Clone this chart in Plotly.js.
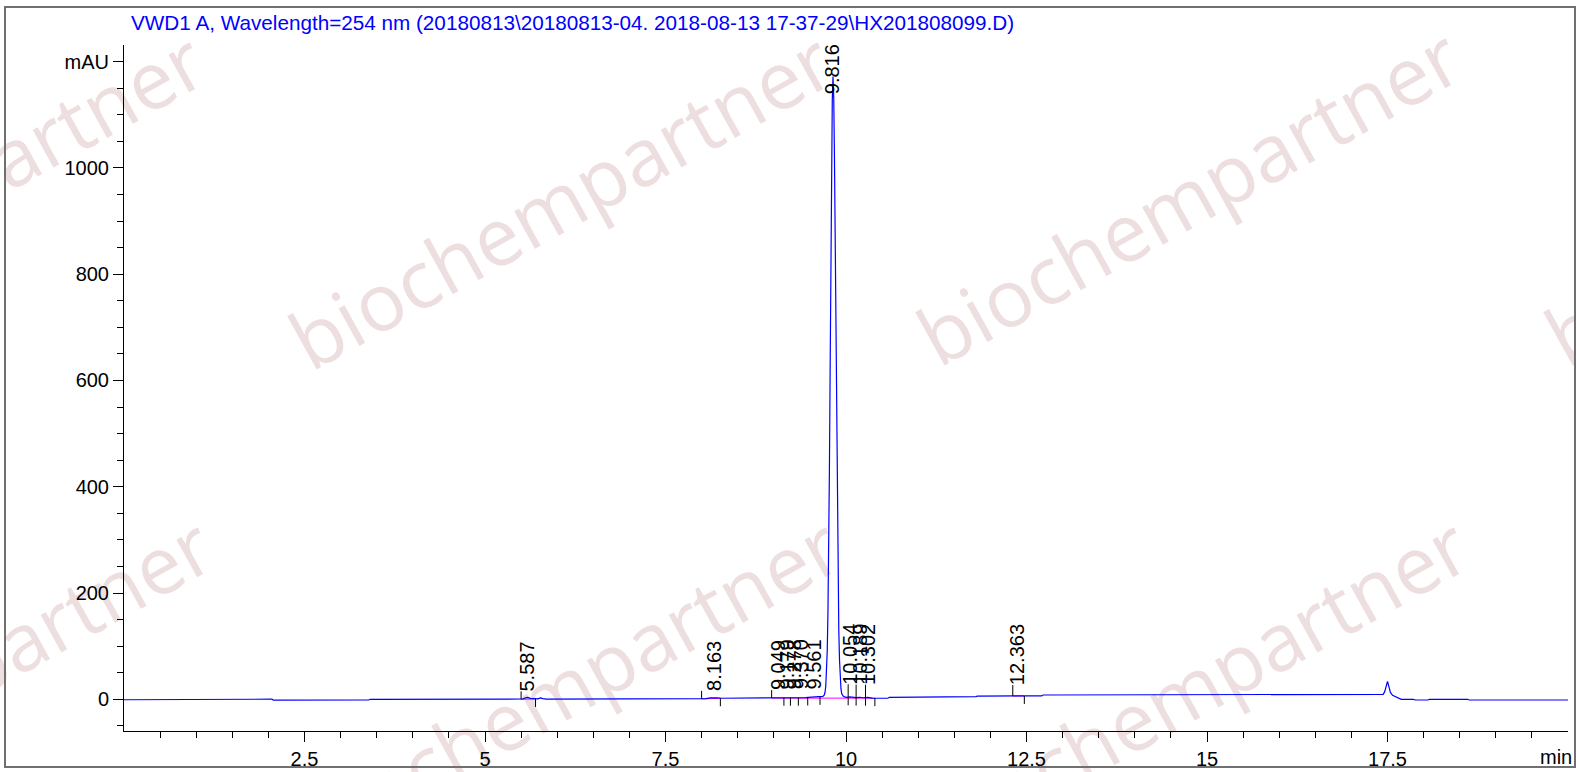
<!DOCTYPE html>
<html>
<head>
<meta charset="utf-8">
<script src="https://cdn.plot.ly/plotly-3.0.1.min.js"></script>
<style>html,body{margin:0;padding:0;background:#fff;}#chart{width:1576px;height:772px;}</style>
</head>
<body>
<div id="chart"></div>
<script>
// ---- data ----
const titleText = 'VWD1 A, Wavelength=254 nm (20180813\\20180813-04. 2018-08-13 17-37-29\\HX201808099.D)';

const time = [0, 1.93, 1.95, 2.05, 2.07, 2.27, 2.29, 2.34, 2.36, 3.39, 3.41, 5.45,
  5.52, 5.56, 5.59, 5.63, 5.68, 5.73, 5.77, 5.80, 5.85, 6.5, 7.5, 7.98, 8.06, 8.12, 8.163, 8.21, 8.28, 8.6,
  8.95, 9.01, 9.049, 9.10, 9.179, 9.23, 9.278, 9.33, 9.370, 9.44, 9.52, 9.561, 9.61, 9.66,
  9.68, 9.70, 9.71, 9.72, 9.73, 9.74, 9.75, 9.76, 9.77, 9.78, 9.79, 9.80, 9.81, 9.82,
  9.83, 9.84, 9.85, 9.86, 9.87, 9.88, 9.89, 9.90, 9.91, 9.92, 9.93, 9.94, 9.96, 9.98,
  10.01, 10.054, 10.10, 10.14, 10.189, 10.24, 10.302, 10.36, 10.45, 10.58, 10.60, 10.96, 10.98, 11.00,
  11.18, 11.20, 11.80, 11.82, 12.30, 12.363, 12.45, 12.71, 12.73, 13.17, 13.19,
  17.40, 17.44, 17.46, 17.48, 17.50, 17.52, 17.54, 17.57, 17.60, 17.64, 17.67, 17.69,
  17.86, 17.88, 18.06, 18.08, 18.61, 18.63, 20.0];
const signal = [-0.8, -0.8, 0.3, 0.3, -1.6, -1.6, -0.2, -0.2, -1.3, -1.3, 0, 0,
  0.6, 2.8, 3.5, 1.8, 0.6, 0.8, 2.6, 1.2, 0.4, 0.5, 0.6, 0.8, 1.4, 2.8, 3.3, 2.6, 2.0, 2.1,
  2.3, 2.9, 3.6, 3.0, 3.4, 3.0, 3.5, 3.1, 3.7, 3.3, 4.0, 4.6, 4.4, 5.0,
  5.5, 8.3, 13.4, 25, 48, 91, 163, 274, 427, 614, 816, 999, 1128, 1172,
  1133, 1022, 860, 676, 495, 339, 217, 131, 75, 41, 20, 11, 6, 4.5,
  3.8, 4.6, 3.6, 3.2, 3.9, 3.0, 3.6, 2.4, 2.0, 2.0, 3.8, 3.8, 4.6, 3.8,
  3.8, 5.0, 5.0, 6.2, 6.2, 6.8, 6.3, 6.4, 8.1, 8.1, 8.6,
  8.6, 9.5, 14, 25, 33.5, 24, 13, 7.5, 5.5, 3.5, 0.5, 0,
  0, -1.3, -1.3, 0, 0, -1.3, -1.3];

// peak apex labels
const peakLabels = ['5.587', '8.163', '9.049', '9.179', '9.278', '9.370', '9.561', '9.816', '10.054', '10.189', '10.302', '12.363'];
const peakTimes = [5.587, 8.163, 9.049, 9.179, 9.278, 9.370, 9.561, 9.816, 10.054, 10.189, 10.302, 12.363];
const peakBase = [0.3, 1.5, 2.9, 3.0, 3.1, 3.2, 4.0, 1172, 3.5, 3.3, 3.0, 6.2];

// integration start (up) / end (down) markers
const startTimes = [5.50, 8.00, 8.97, 10.03, 10.14, 10.27, 12.31];
const startBase = [0.0, 0.8, 2.3, 3.8, 3.2, 3.1, 6.2];
const endTimes = [5.70, 8.26, 9.14, 9.23, 9.34, 9.47, 9.64, 10.03, 10.14, 10.27, 10.40, 12.47];
const endBase = [0.7, 2.0, 3.0, 3.0, 3.1, 3.4, 4.6, 3.8, 3.2, 3.1, 2.2, 6.3];

// integration baselines (magenta)
const intStartT = [5.50, 8.00, 8.97, 12.31];
const intStartY = [0.0, 0.8, 2.3, 6.2];
const intEndT = [5.70, 8.26, 10.40, 12.47];
const intEndY = [0.7, 2.0, 2.2, 6.3];

// axis ticks
const xTickVals = [2.5, 5, 7.5, 10, 12.5, 15, 17.5];
const xTickText = ['2.5', '5', '7.5', '10', '12.5', '15', '17.5'];
const yTickVals = [0, 200, 400, 600, 800, 1000, 1200];
const yTickText = ['0', '200', '400', '600', '800', '1000', 'mAU'];

// ---- styling / layout ----
const FONT = 'Arial, "Liberation Sans", sans-serif';
const L = 124, R = 1568, T = 45, B = 731;
const PW = R - L, PH = B - T;
const px2paperX = p => (p - L) / PW;
const px2paperY = p => (B - p) / PH;

const labelLift = {'9.816': -18, '10.054': 13, '10.189': 13, '10.302': 13, '12.363': 11};
const startLift = [8, 8, 8, 13, 13, 13, 11];

const magX = [], magY = [];
intStartT.forEach((t, i) => { magX.push(t, intEndT[i], null); magY.push(intStartY[i], intEndY[i], null); });

const traces = [
  {x: magX, y: magY, type: 'scatter', mode: 'lines', line: {color: '#ff00ff', width: 1}, hoverinfo: 'skip', connectgaps: false},
  {x: time, y: signal, type: 'scatter', mode: 'lines', line: {color: '#0000ff', width: 1.2}, hoverinfo: 'skip'}
];

const shapes = [];
// watermark (below traces)
const wmCenters = [[-65, 204], [563, 204], [1191, 200], [1819, 200], [-57, 689], [571, 689], [1199, 689], [1827, 689]];
wmCenters.forEach(c => {
  shapes.push({
    type: 'line', xref: 'paper', yref: 'paper', layer: 'below',
    x0: px2paperX(c[0] - 260), y0: px2paperY(c[1] + 144),
    x1: px2paperX(c[0] + 260), y1: px2paperY(c[1] - 144),
    line: {color: 'rgba(0,0,0,0)', width: 1},
    label: {text: 'biochempartner', textposition: 'middle', yanchor: 'middle', padding: 0,
      font: {family: '"Open Sans", "Noto Sans", sans-serif', size: 80, color: '#eddfdf'}}
  });
});
// integration markers
startTimes.forEach((t, i) => shapes.push({type: 'line', xref: 'x', yref: 'y', ysizemode: 'pixel',
  yanchor: startBase[i], x0: t, x1: t, y0: 0, y1: startLift[i], line: {color: '#000', width: 1}}));
endTimes.forEach((t, i) => shapes.push({type: 'line', xref: 'x', yref: 'y', ysizemode: 'pixel',
  yanchor: endBase[i], x0: t, x1: t, y0: 0, y1: -8, line: {color: '#000', width: 1}}));
// outer frame
shapes.push({type: 'rect', xref: 'paper', yref: 'paper', layer: 'above',
  x0: px2paperX(5), x1: px2paperX(1575), y0: px2paperY(767), y1: px2paperY(7),
  line: {color: '#707070', width: 2}});

const annotations = peakLabels.map((lab, i) => ({
  x: peakTimes[i], y: peakBase[i], xref: 'x', yref: 'y', text: lab, showarrow: false,
  textangle: -90, xanchor: 'center', yanchor: 'bottom', yshift: (labelLift[lab] !== undefined ? labelLift[lab] : 8),
  borderpad: 0, borderwidth: 0, font: {family: FONT, size: 20, color: '#000'}
}));
annotations.push({x: 1, y: 0, xref: 'paper', yref: 'paper', text: 'min', showarrow: false,
  xanchor: 'right', yanchor: 'top', xshift: 6, yshift: -13, font: {family: FONT, size: 20, color: '#000'}});

const minorX = []; for (let v = 0.5; v < 20; v += 0.5) { if (Math.abs(v / 2.5 - Math.round(v / 2.5)) > 1e-6) minorX.push(v); }
const minorY = []; for (let v = -50; v <= 1200; v += 50) { if (v % 200 !== 0) minorY.push(v); }

const layout = {
  width: 1576, height: 772,
  margin: {l: L, r: 1576 - R, t: T, b: 772 - B, pad: 0},
  paper_bgcolor: '#ffffff', plot_bgcolor: 'rgba(0,0,0,0)',
  showlegend: false,
  title: {text: titleText, xref: 'container', yref: 'container', x: 131 / 1576, xanchor: 'left',
    y: 1 - 23 / 772, yanchor: 'middle', font: {family: FONT, size: 20.7, color: '#0000ff'}},
  xaxis: {range: [0, 20], tickmode: 'array', tickvals: xTickVals, ticktext: xTickText,
    ticks: 'outside', ticklen: 10, tickwidth: 1, tickcolor: '#000', showline: true, linecolor: '#000', linewidth: 1,
    showgrid: false, zeroline: false, automargin: false, tickfont: {family: FONT, size: 20, color: '#000'},
    minor: {tickmode: 'array', tickvals: minorX, ticks: 'outside', ticklen: 6, tickcolor: '#000', showgrid: false}},
  yaxis: {range: [-59.6, 1231.2], tickmode: 'array', tickvals: yTickVals, ticktext: yTickText,
    ticks: 'outside', ticklen: 10, tickwidth: 1, tickcolor: '#000', showline: true, linecolor: '#000', linewidth: 1,
    showgrid: false, zeroline: false, automargin: false, tickfont: {family: FONT, size: 20, color: '#000'},
    minor: {tickmode: 'array', tickvals: minorY, ticks: 'outside', ticklen: 6, tickcolor: '#000', showgrid: false}},
  shapes: shapes,
  annotations: annotations
};

Plotly.newPlot('chart', traces, layout, {displayModeBar: false, staticPlot: true});
</script>
</body>
</html>
